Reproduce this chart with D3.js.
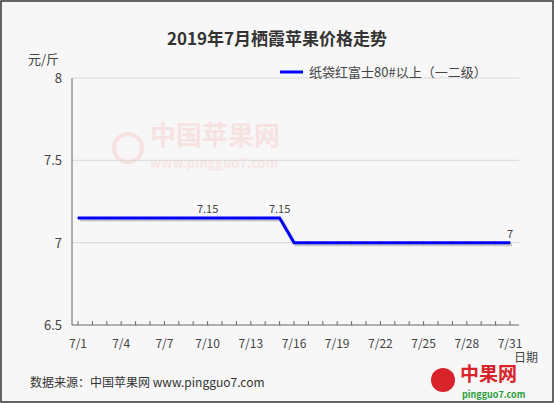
<!DOCTYPE html>
<html><head><meta charset="utf-8">
<script src="https://cdn.jsdelivr.net/npm/d3@7"></script>
<style>body{margin:0;background:#fff}svg{display:block;font-family:"Noto Sans CJK SC",sans-serif}</style>
</head><body><div id="chart"></div>
<script>
// données
var jours = d3.range(1, 32);
var prix = [7.15,7.15,7.15,7.15,7.15,7.15,7.15,7.15,7.15,7.15,7.15,7.15,7.15,7.15,7.15,
            7,7,7,7,7,7,7,7,7,7,7,7,7,7,7,7];
var joursLabels = [1,4,7,10,13,16,19,22,25,28,31];
var yTicks = [6.5, 7, 7.5, 8];
var etiquettes = [{j:10, v:"7.15"}, {j:15, v:"7.15"}, {j:31, v:"7"}];

var largeur = 554, hauteur = 403;
var svg = d3.select("#chart").append("svg").attr("width", largeur).attr("height", hauteur);
svg.append("rect").attr("x",1).attr("y",1).attr("width",largeur-2).attr("height",hauteur-2)
   .attr("fill","#f7f7f7").attr("stroke","#333").attr("stroke-width",1.5);

var x = d3.scaleLinear().domain([1,31]).range([78,510]);
var y = d3.scaleLinear().domain([6.5,8]).range([325,78]);

// filigrane
svg.append("text").attr("x",150).attr("y",145).attr("font-size",26).attr("font-weight","bold")
   .attr("fill","#f7e2e2").text("中国苹果网");
svg.append("text").attr("x",150).attr("y",168).attr("font-size",13).attr("font-weight","bold")
   .attr("fill","#f7e6e6").text("www.pingguo7.com");
svg.append("circle").attr("cx",128).attr("cy",148).attr("r",14).attr("fill","none")
   .attr("stroke","#f7e2e2").attr("stroke-width",4);

// grille
svg.selectAll(".grille").data(yTicks.slice(1)).enter().append("line")
   .attr("x1",72).attr("x2",519).attr("y1",d=>y(d)).attr("y2",d=>y(d))
   .attr("stroke","#d9d9d9");
svg.append("line").attr("x1",72).attr("x2",72).attr("y1",y(8)).attr("y2",y(6.5)).attr("stroke","#666");
svg.append("line").attr("x1",72).attr("x2",519).attr("y1",y(6.5)).attr("y2",y(6.5)).attr("stroke","#666");
svg.selectAll(".tx").data(jours).enter().append("line")
   .attr("x1",d=>x(d)).attr("x2",d=>x(d)).attr("y1",y(6.5)).attr("y2",y(6.5)-4).attr("stroke","#666");
svg.selectAll(".yl").data(yTicks).enter().append("text")
   .attr("x",62).attr("y",d=>y(d)+5).attr("text-anchor","end").attr("font-size",13).attr("fill","#444")
   .text(d=>d);
svg.selectAll(".xl").data(joursLabels).enter().append("text")
   .attr("x",d=>x(d)).attr("y",348).attr("text-anchor","middle").attr("font-size",12).attr("fill","#444")
   .text(d=>"7/"+d);

// ligne
var ligne = d3.line().x((d,i)=>x(jours[i])).y(d=>y(d));
svg.append("path").datum(prix).attr("d",ligne).attr("fill","none").attr("stroke","#999")
   .attr("stroke-width",3).attr("opacity",0.5).attr("transform","translate(2,2)");
svg.append("path").datum(prix).attr("d",ligne).attr("fill","none").attr("stroke","#0000ff").attr("stroke-width",3);
svg.selectAll(".pt").data(jours).enter().append("line")
   .attr("x1",d=>x(d)).attr("x2",d=>x(d)).attr("y1",(d,i)=>y(prix[i])-1).attr("y2",(d,i)=>y(prix[i])+1)
   .attr("stroke","#0000aa").attr("stroke-width",1);
svg.selectAll(".et").data(etiquettes).enter().append("text")
   .attr("x",d=>x(d.j)).attr("y",d=>y(prix[d.j-1])-5).attr("text-anchor","middle")
   .attr("font-size",11).attr("fill","#444").text(d=>d.v);

// textes
svg.append("text").attr("x",277).attr("y",45).attr("text-anchor","middle").attr("font-size",17)
   .attr("font-weight","bold").attr("fill","#333").text("2019年7月栖霞苹果价格走势");
svg.append("text").attr("x",28).attr("y",64).attr("font-size",13).attr("fill","#444").text("元/斤");
svg.append("line").attr("x1",280).attr("x2",303).attr("y1",72).attr("y2",72).attr("stroke","#0000ff").attr("stroke-width",3);
svg.append("text").attr("x",309).attr("y",77).attr("font-size",13).attr("fill","#444").text("纸袋红富士80#以上（一二级）");
svg.append("text").attr("x",514).attr("y",362).attr("font-size",12).attr("fill","#444").text("日期");
svg.append("text").attr("x",30).attr("y",387).attr("font-size",12).attr("fill","#333").text("数据来源：中国苹果网 www.pingguo7.com");

// logo
svg.append("circle").attr("cx",443).attr("cy",380).attr("r",12).attr("fill","#d8232a");
svg.append("text").attr("x",460).attr("y",381).attr("font-size",19).attr("font-weight","bold").attr("fill","#d8232a").text("中果网");
svg.append("text").attr("x",462).attr("y",398).attr("font-size",9).attr("font-weight","bold").attr("fill","#2a9d3a").text("pingguo7.com");
</script></body></html>
